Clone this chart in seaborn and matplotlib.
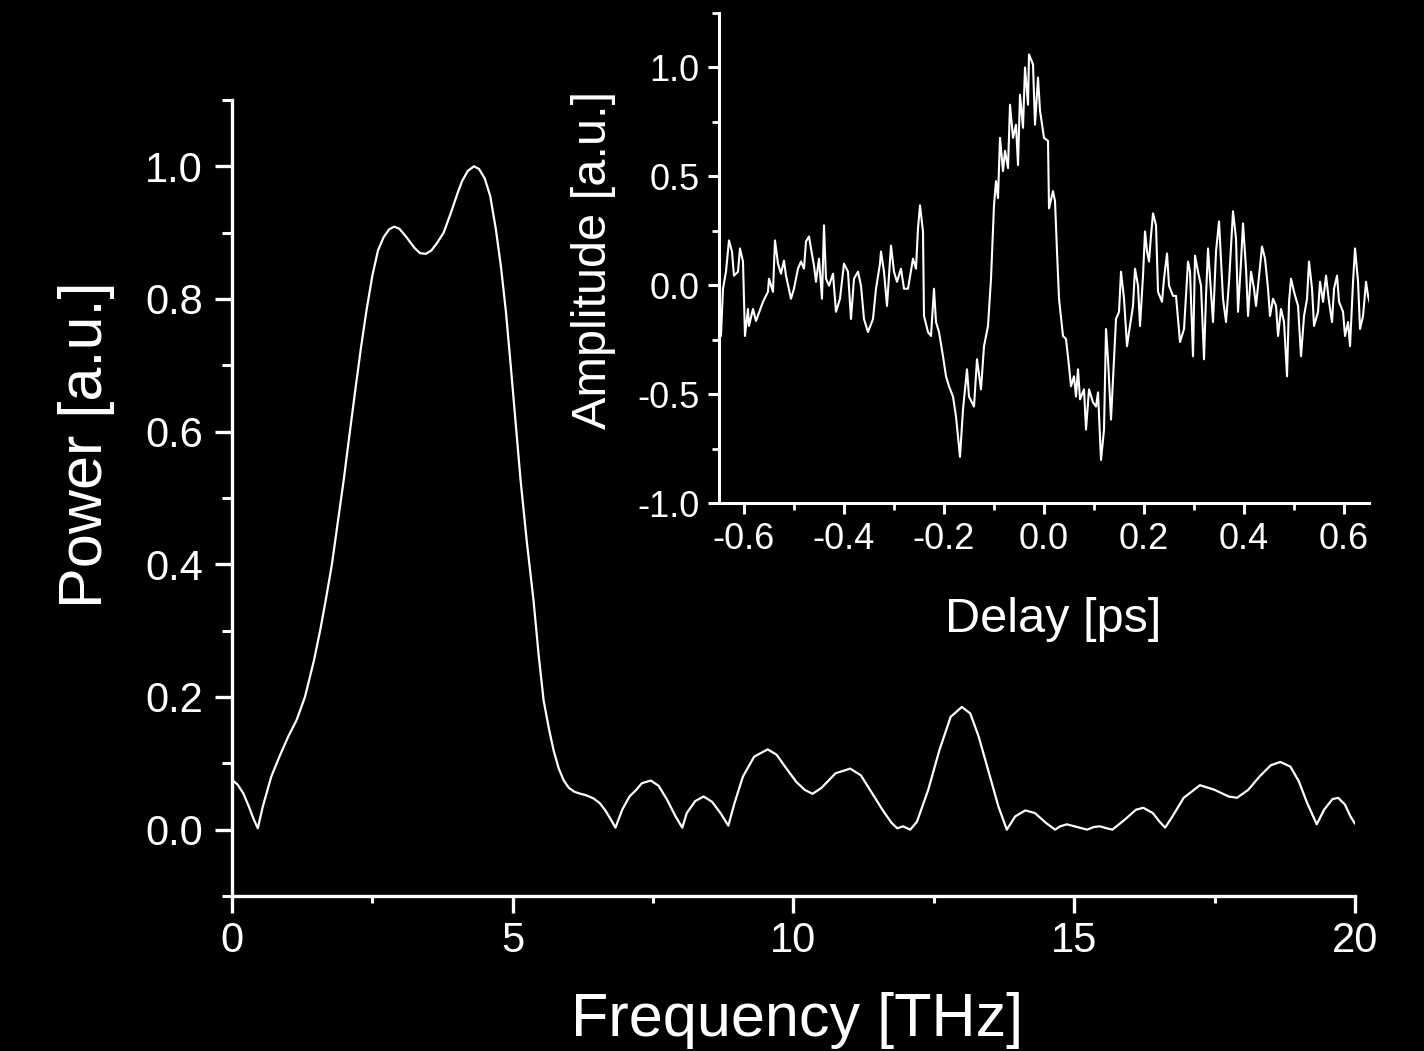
import numpy as np
import pandas as pd
import matplotlib
matplotlib.use("Agg")
import matplotlib.pyplot as plt
from matplotlib.ticker import MultipleLocator, FormatStrFormatter
import seaborn as sns

# Power spectrum of the THz pulse
freq_thz = [0.0, 0.1, 0.2, 0.3, 0.38, 0.46, 0.55, 0.7, 0.84, 1.0, 1.15, 1.3, 1.46,
            1.57, 1.67, 1.78, 1.88, 1.99, 2.1, 2.2, 2.3, 2.4, 2.5, 2.6, 2.7, 2.8,
            2.89, 2.98, 3.1, 3.25, 3.35, 3.45, 3.55, 3.65, 3.77, 3.9, 4.02, 4.1,
            4.2, 4.31, 4.4, 4.5, 4.6, 4.7, 4.79, 4.88, 4.96, 5.05, 5.14, 5.25,
            5.37, 5.46, 5.55, 5.65, 5.73, 5.82, 5.91, 6.0, 6.1, 6.21, 6.3, 6.44,
            6.55, 6.65, 6.75, 6.83, 6.95, 7.08, 7.2, 7.3, 7.46, 7.6, 7.75, 7.9,
            8.02, 8.1, 8.25, 8.4, 8.55, 8.7, 8.84, 8.95, 9.1, 9.3, 9.54, 9.7,
            9.85, 10.05, 10.2, 10.34, 10.5, 10.75, 11.01, 11.2, 11.4, 11.6, 11.75,
            11.85, 11.95, 12.08, 12.2, 12.4, 12.6, 12.8, 13.0, 13.15, 13.3, 13.5,
            13.65, 13.8, 13.95, 14.13, 14.3, 14.5, 14.66, 14.75, 14.87, 15.05,
            15.23, 15.35, 15.46, 15.58, 15.68, 15.9, 16.1, 16.23, 16.4, 16.52,
            16.62, 16.75, 16.95, 17.24, 17.5, 17.75, 17.9, 18.1, 18.3, 18.5,
            18.67, 18.85, 19.0, 19.15, 19.32, 19.45, 19.6, 19.7, 19.82, 19.92, 20.0]
power_au = [0.075, 0.068, 0.055, 0.035, 0.017, 0.002, 0.035, 0.08, 0.109, 0.14, 0.165, 0.2, 0.255,
            0.3, 0.346, 0.4, 0.46, 0.527, 0.6, 0.665, 0.728, 0.785, 0.835, 0.873, 0.893, 0.905,
            0.909, 0.906, 0.894, 0.877, 0.869, 0.868, 0.873, 0.884, 0.9, 0.93, 0.96, 0.978,
            0.993, 1.0, 0.996, 0.982, 0.955, 0.905, 0.849, 0.78, 0.704, 0.615, 0.527, 0.435,
            0.346, 0.265, 0.195, 0.15, 0.119, 0.092, 0.074, 0.063, 0.057, 0.054, 0.052, 0.047,
            0.04, 0.029, 0.015, 0.003, 0.03, 0.05, 0.06, 0.07, 0.074, 0.066, 0.045, 0.02,
            0.003, 0.025, 0.043, 0.05, 0.042, 0.025, 0.006, 0.04, 0.08, 0.11, 0.121, 0.113,
            0.095, 0.072, 0.06, 0.054, 0.063, 0.085, 0.092, 0.082, 0.055, 0.028, 0.01,
            0.002, 0.005, 0.0, 0.012, 0.06, 0.12, 0.17, 0.185, 0.175, 0.14, 0.08,
            0.035, 0.0, 0.02, 0.029, 0.025, 0.01, 0.0, 0.005, 0.008, 0.004,
            0.0, 0.004, 0.005, 0.002, 0.0, 0.015, 0.03, 0.033, 0.025, 0.012,
            0.003, 0.02, 0.048, 0.067, 0.06, 0.05, 0.048, 0.06, 0.08, 0.097,
            0.102, 0.095, 0.073, 0.04, 0.008, 0.03, 0.046, 0.048, 0.038, 0.02, 0.009]

# Time-domain waveform (electro-optic sampling trace)
delay_ps = [-0.646, -0.642, -0.636, -0.630, -0.624, -0.620, -0.612, -0.608, -0.602, -0.598,
            -0.592, -0.590, -0.582, -0.576, -0.562, -0.552, -0.550, -0.542, -0.538, -0.532,
            -0.526, -0.520, -0.516, -0.506, -0.500, -0.492, -0.486, -0.480, -0.476, -0.470,
            -0.466, -0.460, -0.456, -0.450, -0.444, -0.440, -0.436, -0.430, -0.422, -0.416,
            -0.408, -0.400, -0.392, -0.386, -0.380, -0.372, -0.366, -0.360, -0.352, -0.342,
            -0.336, -0.328, -0.326, -0.320, -0.314, -0.306, -0.300, -0.294, -0.286, -0.280,
            -0.272, -0.262, -0.256, -0.252, -0.248, -0.242, -0.240, -0.232, -0.226, -0.220,
            -0.216, -0.210, -0.202, -0.196, -0.190, -0.182, -0.176, -0.168, -0.162, -0.154,
            -0.150, -0.140, -0.134, -0.126, -0.120, -0.112, -0.106, -0.100, -0.096, -0.092,
            -0.088, -0.082, -0.078, -0.072, -0.068, -0.062, -0.056, -0.052, -0.048, -0.042,
            -0.038, -0.032, -0.030, -0.022, -0.018, -0.012, -0.008, 0.000, 0.008, 0.010,
            0.018, 0.022, 0.026, 0.030, 0.038, 0.044, 0.050, 0.054, 0.060, 0.064,
            0.068, 0.072, 0.080, 0.084, 0.090, 0.098, 0.104, 0.108, 0.114, 0.120,
            0.124, 0.128, 0.134, 0.140, 0.144, 0.150, 0.154, 0.160, 0.166, 0.170,
            0.178, 0.182, 0.188, 0.192, 0.198, 0.202, 0.206, 0.210, 0.214, 0.218,
            0.224, 0.228, 0.236, 0.240, 0.246, 0.250, 0.258, 0.264, 0.272, 0.280,
            0.288, 0.292, 0.298, 0.302, 0.308, 0.314, 0.320, 0.324, 0.328, 0.338,
            0.344, 0.350, 0.358, 0.364, 0.370, 0.374, 0.378, 0.384, 0.388, 0.394,
            0.398, 0.404, 0.408, 0.414, 0.420, 0.424, 0.430, 0.436, 0.442, 0.448,
            0.452, 0.458, 0.464, 0.468, 0.474, 0.480, 0.486, 0.490, 0.494, 0.500,
            0.508, 0.514, 0.520, 0.526, 0.530, 0.536, 0.540, 0.548, 0.552, 0.558,
            0.564, 0.570, 0.576, 0.580, 0.586, 0.590, 0.598, 0.602, 0.608, 0.612,
            0.618, 0.622, 0.628, 0.632, 0.638, 0.644, 0.648, 0.652]
amplitude_au = [-0.233, -0.016, 0.062, 0.206, 0.155, 0.044, 0.062, 0.169, 0.109, -0.233,
                -0.109, -0.187, -0.109, -0.164, -0.076, -0.030, 0.030, -0.030, 0.206, 0.099,
                0.053, 0.113, 0.044, -0.062, -0.016, 0.076, 0.109, 0.076, 0.201, 0.224,
                0.169, 0.090, 0.016, 0.122, -0.062, 0.275, 0.030, -0.002, 0.053, -0.122,
                -0.062, 0.099, 0.062, -0.155, 0.030, 0.062, -0.002, -0.155, -0.215, -0.155,
                -0.016, 0.099, 0.155, 0.062, -0.095, 0.182, 0.062, 0.016, 0.076, -0.016,
                -0.016, 0.122, 0.076, 0.261, 0.367, 0.247, -0.141, -0.215, -0.233, -0.016,
                -0.169, -0.215, -0.326, -0.418, -0.464, -0.511, -0.603, -0.788, -0.571, -0.386,
                -0.511, -0.557, -0.340, -0.478, -0.280, -0.187, 0.030, 0.367, 0.478, 0.400,
                0.677, 0.524, 0.617, 0.538, 0.829, 0.677, 0.737, 0.552, 0.875, 0.723,
                1.000, 0.829, 1.060, 1.014, 0.737, 0.954, 0.802, 0.677, 0.663, 0.353,
                0.432, 0.386, 0.155, -0.062, -0.233, -0.247, -0.372, -0.464, -0.418, -0.511,
                -0.386, -0.524, -0.478, -0.663, -0.478, -0.538, -0.557, -0.492, -0.802, -0.663,
                -0.201, -0.340, -0.617, -0.340, -0.155, -0.122, 0.062, -0.062, -0.280, -0.215,
                -0.095, 0.076, -0.002, -0.187, 0.044, 0.247, 0.155, 0.109, 0.229, 0.330,
                0.275, -0.030, -0.076, 0.030, 0.146, -0.002, -0.049, -0.049, -0.261, -0.201,
                0.109, 0.062, -0.326, 0.136, 0.062, -0.002, -0.340, -0.049, 0.169, -0.169,
                0.155, 0.293, -0.062, -0.169, 0.016, 0.182, 0.340, 0.215, -0.122, 0.109,
                0.284, 0.076, -0.141, 0.062, -0.016, -0.095, 0.044, 0.178, 0.122, -0.016,
                -0.141, -0.062, -0.095, -0.233, -0.109, -0.169, -0.418, -0.076, 0.030, -0.030,
                -0.095, -0.326, -0.141, -0.062, 0.109, -0.016, -0.187, -0.122, 0.016, -0.076,
                0.044, -0.076, -0.169, -0.016, 0.044, -0.076, -0.122, -0.233, -0.169, -0.280,
                0.016, 0.169, 0.016, -0.201, -0.141, 0.016, -0.049, -0.085]

spectrum = pd.DataFrame({"Frequency": freq_thz, "Power": power_au})
waveform = pd.DataFrame({"Delay": delay_ps, "Amplitude": amplitude_au})

sns.set_theme(style="ticks")
plt.rcParams["font.family"] = ["Liberation Sans", "DejaVu Sans"]
plt.rcParams["axes.unicode_minus"] = False
plt.rcParams["figure.facecolor"] = "black"
plt.rcParams["axes.facecolor"] = "black"

fg = "white"

fig = plt.figure(figsize=(14.24, 10.51), dpi=100)
ax = fig.add_axes([0.1629, 0.1475, 0.7886, 0.7574])
sns.lineplot(data=spectrum, x="Frequency", y="Power", ax=ax, color=fg,
             linewidth=1.6, sort=False, estimator=None)

ax.set_xlim(0, 20)
ax.set_ylim(-0.1, 1.1)
ax.xaxis.set_major_locator(MultipleLocator(5))
ax.xaxis.set_minor_locator(MultipleLocator(2.5))
ax.yaxis.set_minor_locator(MultipleLocator(0.1))
ax.set_yticks([0.0, 0.2, 0.4, 0.6, 0.8, 1.0])
ax.yaxis.set_major_formatter(FormatStrFormatter("%.1f"))
ax.set_xlabel("Frequency [THz]", fontsize=44, color=fg)
ax.set_ylabel("Power [a.u.]", fontsize=44, color=fg)
ax.xaxis.set_label_coords(0.503, -0.121)
ax.yaxis.set_label_coords(-0.104, 0.567)

for side in ("top", "right"):
    ax.spines[side].set_visible(False)
for side in ("left", "bottom"):
    ax.spines[side].set_color(fg)
    ax.spines[side].set_linewidth(2.4)
ax.tick_params(axis="both", which="major", colors=fg, labelsize=30,
               width=2.4, length=12, direction="out")
ax.tick_params(axis="x", which="major", pad=6)
ax.tick_params(axis="y", which="major", pad=9)
ax.tick_params(axis="x", which="minor", colors=fg, width=2.2, length=5, direction="out")
ax.tick_params(axis="y", which="minor", colors=fg, width=2.2, length=7, direction="out")

# Inset: time-domain trace
ins = fig.add_axes([0.5049, 0.5214, 0.4565, 0.4662])
ins.set_facecolor("none")
sns.lineplot(data=waveform, x="Delay", y="Amplitude", ax=ins, color=fg,
             linewidth=1.5, sort=False, estimator=None)
ins.set_xlim(-0.65, 0.65)
ins.set_ylim(-1.0, 1.25)
ins.set_xticks([-0.6, -0.4, -0.2, 0.0, 0.2, 0.4, 0.6])
ins.xaxis.set_minor_locator(MultipleLocator(0.1))
ins.set_yticks([-1.0, -0.5, 0.0, 0.5, 1.0])
ins.yaxis.set_minor_locator(MultipleLocator(0.25))
ins.xaxis.set_major_formatter(FormatStrFormatter("%.1f"))
ins.yaxis.set_major_formatter(FormatStrFormatter("%.1f"))
ins.set_xlabel("Delay [ps]", fontsize=35, color=fg)
ins.set_ylabel("Amplitude [a.u.]", fontsize=35, color=fg)
ins.xaxis.set_label_coords(0.514, -0.192)
ins.yaxis.set_label_coords(-0.158, 0.496)

for side in ("top", "right"):
    ins.spines[side].set_visible(False)
for side in ("left", "bottom"):
    ins.spines[side].set_color(fg)
    ins.spines[side].set_linewidth(2.2)
ins.tick_params(axis="both", which="major", colors=fg, labelsize=26,
                width=2.2, length=8, direction="out", pad=6)
ins.tick_params(axis="both", which="minor", colors=fg, width=2.0, length=5,
                direction="out")

fig.savefig("out.png", dpi=100, facecolor="black")
